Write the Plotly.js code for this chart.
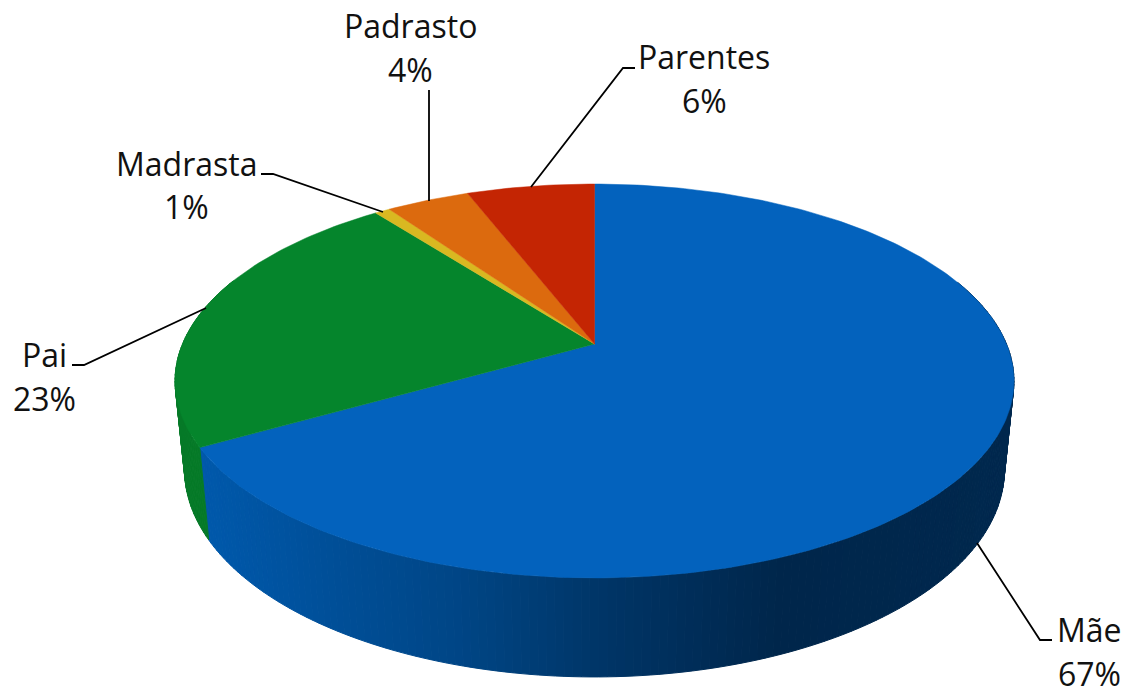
<!DOCTYPE html>
<html>
<head>
<meta charset="utf-8">
<script src="https://cdn.plot.ly/plotly-3.0.1.min.js"></script>
<style>html,body{margin:0;padding:0;background:#fff}#chart{width:1126px;height:688px}</style>
</head>
<body>
<div id="chart"></div>
<script>
// Data (clockwise from 12 o'clock)
const categories = ['Mãe', 'Pai', 'Madrasta', 'Padrasto', 'Parentes'];
const shares = [66.8, 22.8, 0.7, 3.85, 5.9];
const topColors = ['#0362BD', '#05852C', '#D9B821', '#DC6A0E', '#C42503'];

// Label layout
const labelX = [1089, 44, 186, 410, 704];
const nameY = [629, 354, 163, 25, 56];
const pctY = [673, 398, 206, 69, 100];
const leaderX = [[1052,1040,977],[72,84,206],[261,273,383],[429,429],[635,623,531]];
const leaderY = [[640,640,543],[365,365,308],[174,174,212],[90,201],[68,68,187]];

// Perspective model of the disc: top and bottom faces
const topFace = {x0:594.5, y0:344, A:412, B:190, k:0.1878};
const botFace = {x0:594.5, y0:431, A:402.6, B:199.7, k:0.188};
function project(f, th){
  const u = Math.sin(th), v = Math.cos(th), w = 1 + f.k*v;
  return [f.x0 + f.A*u/w, f.y0 - f.B*v/w];
}
// Side wall shading by horizontal position
const blueStops = [[209,[0,88,170]],[460,[0,69,133]],[600,[0,53,103]],[780,[0,38,75]],[1020,[0,40,78]]];
function sideColor(i, x){
  if (i === 1) return '#067A28';
  if (i !== 0) return topColors[i];
  if (x <= blueStops[0][0]) return 'rgb(0,88,170)';
  for (let s = 1; s < blueStops.length; s++){
    if (x <= blueStops[s][0]){
      const a = blueStops[s-1], b = blueStops[s], t = (x-a[0])/(b[0]-a[0]);
      return 'rgb(' + a[1].map((c,j)=>Math.round(c+(b[1][j]-c)*t)).join(',') + ')';
    }
  }
  return 'rgb(0,40,78)';
}

const total = shares.reduce((a,b)=>a+b,0);
const traces = [];
const tops = [];
let acc = 0;
shares.forEach((val, i) => {
  const a0 = acc/total*2*Math.PI, a1 = (acc+val)/total*2*Math.PI;
  acc += val;
  const n = Math.max(2, Math.ceil((a1-a0)/(Math.PI/180)));
  const xs = [topFace.x0], ys = [topFace.y0];
  for (let s = 0; s <= n; s++){
    const th0 = a0+(a1-a0)*s/n;
    const p = project(topFace, th0);
    xs.push(p[0]); ys.push(p[1]);
    if (s < n){
      const th1 = a0+(a1-a0)*(s+1)/n;
      if (Math.cos(th0) < 0.35){
        const q = project(topFace, th1), b0 = project(botFace, th0), b1 = project(botFace, th1);
        const c = sideColor(i, (p[0]+q[0])/2);
        traces.push({type:'scatter', mode:'lines', x:[p[0],q[0],b1[0],b0[0],p[0]], y:[p[1],q[1],b1[1],b0[1],p[1]],
          fill:'toself', fillcolor:c, line:{color:c,width:1}, hoverinfo:'skip', showlegend:false});
      }
    }
  }
  xs.push(topFace.x0); ys.push(topFace.y0);
  tops.push({type:'scatter', mode:'lines', x:xs, y:ys, fill:'toself', fillcolor:topColors[i],
    line:{color:topColors[i],width:0.5}, name:categories[i], hoverinfo:'name', showlegend:false});
});
const leaders = categories.map((c,i)=>({type:'scatter', mode:'lines', x:leaderX[i], y:leaderY[i],
  line:{color:'#000',width:1.8}, hoverinfo:'skip', showlegend:false}));

const font = {family:'"Open Sans", sans-serif', size:32, color:'#111'};
const annotations = [];
categories.forEach((c,i)=>{
  annotations.push({x:labelX[i], y:nameY[i], xref:'x', yref:'y', text:c, showarrow:false, font, xanchor:'center', yanchor:'middle'});
  annotations.push({x:labelX[i], y:pctY[i], xref:'x', yref:'y', text:Math.round(shares[i])+'%', showarrow:false, font, xanchor:'center', yanchor:'middle'});
});

Plotly.newPlot('chart', traces.concat(tops, leaders), {
  width:1126, height:688, margin:{l:0,r:0,t:0,b:0}, paper_bgcolor:'#fff', plot_bgcolor:'#fff', showlegend:false,
  xaxis:{range:[0,1126], visible:false, fixedrange:true},
  yaxis:{range:[688,0], visible:false, fixedrange:true},
  annotations
}, {displayModeBar:false, staticPlot:true});
</script>
</body>
</html>
